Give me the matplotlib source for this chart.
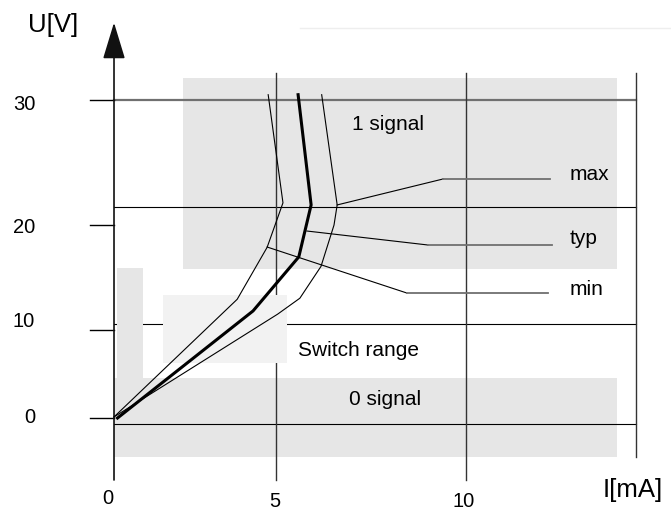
import matplotlib
matplotlib.use("Agg")
import matplotlib.pyplot as plt

plt.rcParams["font.family"] = ["Liberation Sans", "DejaVu Sans"]

# ---- characteristic curves (I in mA, U in V)
MIN_I = [0.0, 3.50, 4.35, 4.80, 4.38]
MIN_U = [0.1, 11.2, 16.1, 20.3, 30.5]
TYP_I = [0.1, 3.95, 5.25, 5.60, 5.23]
TYP_U = [0.0, 10.1, 15.2, 20.1, 30.5]
MAX_I = [0.0, 4.65, 5.28, 5.88, 6.25, 6.34, 5.90]
MAX_U = [0.1, 9.8, 11.3, 14.3, 18.2, 20.1, 30.5]

# curve labels and where their leader lines start / bend / end
CURVE_NAMES = ["max", "typ", "min"]
LEADER_I = [[6.34, 9.35, 12.39], [5.48, 8.92, 12.44], [4.35, 8.32, 12.33]]
LEADER_U = [[20.1, 22.55, 22.55], [17.64, 16.32, 16.32], [16.13, 11.79, 11.79]]
NAME_BASE_U = [22.45, 16.42, 11.6]

# axes scale labels
XTICKS = [0.0, 4.6, 10.0]
XTICK_LABELS = ["0", "5", "10"]
YTICKS = [30.0, 18.2, 8.3, 0.0]
YTICK_LABELS = ["30", "20", "10", "0"]
HGRID = [19.9, 8.87, -0.57]

fig = plt.figure(figsize=(6.71, 5.14), dpi=100)
ax = fig.add_axes([0, 0, 1, 1])
ax.set_xlim(-3.239, 15.824)
ax.set_ylim(-9.057, 39.434)
ax.set_axis_off()

X0, XR = 0.0, 14.83       # left axis / right frame line
YB, YT = -3.68, 32.5      # bottom axis / top of vertical lines
LIGHT = "#e6e6e6"

# shaded regions (below grid)
ax.fill_between([1.96, 14.29], 14.06, 32.08, color=LIGHT, lw=0, zorder=1)
ax.fill_between([0.0, 14.29], YB, 3.77, color=LIGHT, lw=0, zorder=1)

# grid / frame
ax.plot([X0, XR], [30, 30], color="#707070", lw=1.6, zorder=2)
for u in HGRID:
    ax.plot([X0, XR], [u, u], color="black", lw=0.8, zorder=2)
for x in XTICKS[1:]:
    ax.plot([x, x], [-5.85, YT], color="#333333", lw=1.0, zorder=2)
ax.plot([XR, XR], [YB, YT], color="#333333", lw=1.0, zorder=2)
for u in YTICKS:
    ax.plot([-0.68, X0], [u, u], color="black", lw=1.0, zorder=2)

# faint line at the top
ax.plot([5.28, 15.82], [36.8, 36.8], color="#eeeeee", lw=1.0, zorder=1)

# switch range boxes (cover the grid)
ax.fill_between([0.085, 0.82], 3.77, 14.15, color=LIGHT, lw=0, zorder=3)
ax.fill_between([1.39, 4.91], 5.19, 11.6, color="#f2f2f2", lw=0, zorder=3)

# axes with arrows
ax.annotate("", xy=(X0, 37.3), xytext=(X0, -5.85),
            arrowprops=dict(arrowstyle="-|>,head_length=2.3,head_width=0.7",
                            color="#111111", lw=1.2, shrinkA=0, shrinkB=0),
            zorder=4)
ax.annotate("", xy=(15.85, YB), xytext=(X0, YB),
            arrowprops=dict(arrowstyle="-|>,head_length=1.8,head_width=0.65",
                            color="#111111", lw=1.2, shrinkA=0, shrinkB=0),
            zorder=4)

# curves
ax.plot(MIN_I, MIN_U, color="black", lw=0.8, zorder=5)
ax.plot(MAX_I, MAX_U, color="black", lw=0.8, zorder=5)
ax.plot(TYP_I, TYP_U, color="black", lw=2.2, zorder=5)

# leaders + labels
for name, li, lu, bu in zip(CURVE_NAMES, LEADER_I, LEADER_U, NAME_BASE_U):
    ax.plot(li[:2], lu[:2], color="black", lw=0.8, zorder=5)
    ax.plot(li[1:], lu[1:], color="#707070", lw=1.3, zorder=5)
    ax.text(12.95, bu, name, fontsize=15, va="baseline", ha="left", zorder=6)

# region texts
ax.text(7.78, 27.17, "1 signal", fontsize=15, ha="center", va="baseline", zorder=6)
ax.text(7.70, 1.23, "0 signal", fontsize=15, ha="center", va="baseline", zorder=6)
ax.text(5.23, 5.85, "Switch range", fontsize=15, ha="left", va="baseline", zorder=6)

# tick labels
for u, lab, base in zip(YTICKS, YTICK_LABELS, [29.06, 17.45, 8.58, -0.47]):
    ax.text(-2.24, base, lab, fontsize=14.5, ha="right", va="baseline")
for x, lab, base in zip([-0.17, 4.57, 9.94], XTICK_LABELS, [-8.1, -8.4, -8.4]):
    ax.text(x, base, lab, fontsize=14.5, ha="center", va="baseline")

# axis titles
ax.text(-1.73, 36.4, "U[V]", fontsize=18.5, ha="center", va="baseline")
ax.text(14.74, -7.45, "I[mA]", fontsize=18.5, ha="center", va="baseline")

fig.savefig("out.png", dpi=100)
